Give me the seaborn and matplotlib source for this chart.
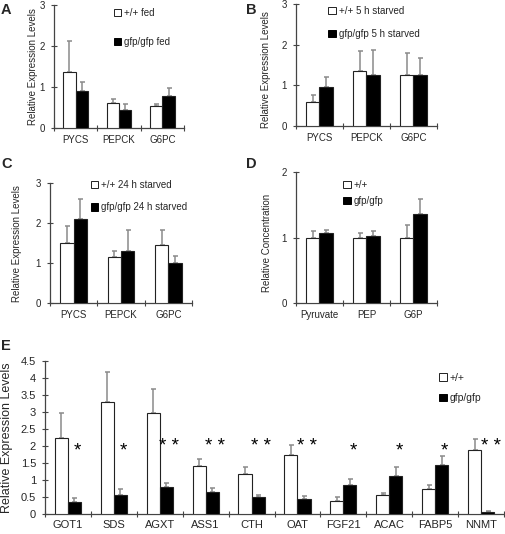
import numpy as np
import pandas as pd
import matplotlib
matplotlib.use('Agg')
import matplotlib.pyplot as plt
import seaborn as sns
from matplotlib.patches import Patch

sns.set_theme(style='white')
plt.rcParams['font.family'] = ['Liberation Sans', 'DejaVu Sans']

# --- data ---
a_genes = ['PYCS', 'PEPCK', 'G6PC']
a_wt = [1.37, 0.61, 0.54]
a_wt_err = [0.75, 0.10, 0.05]
a_ko = [0.91, 0.44, 0.79]
a_ko_err = [0.21, 0.14, 0.18]
a_labels = ['+/+ fed', 'gfp/gfp fed']

b_genes = ['PYCS', 'PEPCK', 'G6PC']
b_wt = [0.60, 1.36, 1.25]
b_wt_err = [0.17, 0.50, 0.56]
b_ko = [0.95, 1.25, 1.25]
b_ko_err = [0.27, 0.62, 0.43]
b_labels = ['+/+ 5 h starved', 'gfp/gfp 5 h starved']

c_genes = ['PYCS', 'PEPCK', 'G6PC']
c_wt = [1.52, 1.17, 1.47]
c_wt_err = [0.42, 0.13, 0.37]
c_ko = [2.10, 1.31, 1.02]
c_ko_err = [0.50, 0.52, 0.17]
c_labels = ['+/+ 24 h starved', 'gfp/gfp 24 h starved']

d_metabolites = ['Pyruvate', 'PEP', 'G6P']
d_wt = [1.00, 1.00, 1.00]
d_wt_err = [0.10, 0.07, 0.19]
d_ko = [1.07, 1.02, 1.37]
d_ko_err = [0.05, 0.09, 0.22]
d_labels = ['+/+', 'gfp/gfp']

e_genes = ['GOT1', 'SDS', 'AGXT', 'ASS1', 'CTH', 'OAT', 'FGF21', 'ACAC', 'FABP5', 'NNMT']
e_wt = [2.25, 3.29, 2.97, 1.43, 1.18, 1.74, 0.40, 0.57, 0.74, 1.90]
e_wt_err = [0.74, 0.91, 0.72, 0.20, 0.22, 0.29, 0.10, 0.07, 0.13, 0.31]
e_ko = [0.35, 0.57, 0.79, 0.67, 0.50, 0.44, 0.85, 1.14, 1.45, 0.08]
e_ko_err = [0.12, 0.17, 0.12, 0.09, 0.07, 0.11, 0.20, 0.26, 0.27, 0.02]
e_stars = ['*', '*', '* *', '* *', '* *', '* *', '*', '*', '*', '* *']
e_labels = ['+/+', 'gfp/gfp']

W, H = 506, 534
fig = plt.figure(figsize=(W / 100, H / 100), dpi=100)


def box(x0, y0, x1, y1):
    return [x0 / W, 1 - y1 / H, (x1 - x0) / W, (y1 - y0) / H]


def draw_panel(ax, genes, wt, wt_err, ko, ko_err, ymax, ystep, ylabel, fs, xpad=5):
    n = len(genes)
    df = pd.DataFrame({'gene': genes + genes,
                       'group': ['wt'] * n + ['ko'] * n,
                       'value': wt + ko})
    sns.barplot(data=df, x='gene', y='value', hue='group', hue_order=['wt', 'ko'],
                palette={'wt': 'white', 'ko': 'black'}, edgecolor='#222222',
                linewidth=0.8, width=0.57, legend=False, ax=ax, zorder=3)
    bars = sorted(ax.patches, key=lambda p: p.get_x())
    xs = [p.get_x() + p.get_width() / 2 for p in bars]
    hs = [p.get_height() for p in bars]
    errs = [e for pair in zip(wt_err, ko_err) for e in pair]
    ax.errorbar(xs, hs, yerr=[np.zeros(len(errs)), errs], fmt='none',
                ecolor='#8a8a8a', elinewidth=1.1, capsize=1.8, capthick=1.1, zorder=2)

    ax.set_xlim(-0.5, n - 0.5)
    ax.set_ylim(0, ymax)
    yt = np.arange(0, ymax + 1e-9, ystep)
    ax.set_yticks(yt)
    ax.set_yticklabels(['%g' % v for v in yt], fontsize=fs)
    ax.set_xticks(np.arange(n + 1) - 0.5, minor=True)
    ax.tick_params(axis='x', which='major', length=0, pad=xpad, labelsize=fs)
    ax.tick_params(axis='x', which='minor', direction='inout', length=5,
                   width=0.8, color='#444444', bottom=True)
    ax.tick_params(axis='y', which='major', direction='inout', length=5,
                   width=0.8, color='#444444', pad=4, left=True)
    sns.despine(ax=ax)
    for s in ['left', 'bottom']:
        ax.spines[s].set_color('#444444')
        ax.spines[s].set_linewidth(0.9)
    ax.set_xlabel('')
    ax.set_ylabel(ylabel, fontsize=fs)
    ax.patch.set_alpha(0)


def add_legend(ax, labels, anchor, spacing, fs):
    handles = [Patch(facecolor='white', edgecolor='#222222', linewidth=0.7, label=labels[0]),
               Patch(facecolor='black', edgecolor='black', linewidth=0.7, label=labels[1])]
    ax.legend(handles=handles, loc='upper left', bbox_to_anchor=anchor, frameon=False,
              handlelength=0.75, handleheight=0.75, handletextpad=0.3,
              labelspacing=spacing, borderpad=0, borderaxespad=0, fontsize=fs)


ax_a = fig.add_axes(box(54, 5, 184, 128))
draw_panel(ax_a, a_genes, a_wt, a_wt_err, a_ko, a_ko_err, 3, 1,
           'Relative Expression Levels', 7)
ax_a.yaxis.set_label_coords(-0.125, 0.5)
add_legend(ax_a, a_labels, (0.46, 0.975), 1.9, 7)

ax_b = fig.add_axes(box(296, 4.3, 437, 126))
draw_panel(ax_b, b_genes, b_wt, b_wt_err, b_ko, b_ko_err, 3, 1,
           'Relative Expression Levels', 7)
ax_b.yaxis.set_label_coords(-0.18, 0.46)
add_legend(ax_b, b_labels, (0.23, 0.985), 1.3, 7)

ax_c = fig.add_axes(box(50, 183.3, 192, 303.3))
draw_panel(ax_c, c_genes, c_wt, c_wt_err, c_ko, c_ko_err, 3, 1,
           'Relative Expression Levels', 7)
ax_c.yaxis.set_label_coords(-0.2, 0.5)
add_legend(ax_c, c_labels, (0.29, 1.03), 1.3, 7)

ax_d = fig.add_axes(box(296, 172.3, 437, 303.3))
draw_panel(ax_d, d_metabolites, d_wt, d_wt_err, d_ko, d_ko_err, 2, 1,
           'Relative Concentration', 7)
ax_d.yaxis.set_label_coords(-0.17, 0.46)
add_legend(ax_d, d_labels, (0.335, 0.945), 0.7, 7)

ax_e = fig.add_axes(box(45, 361.3, 504, 514.3))
draw_panel(ax_e, e_genes, e_wt, e_wt_err, e_ko, e_ko_err, 4.5, 0.5,
           'Relative Expression Levels', 8, xpad=4)
ax_e.yaxis.label.set_size(9)
ax_e.yaxis.set_label_coords(-0.07, 0.5)
add_legend(ax_e, e_labels, (0.858, 0.925), 1.0, 7.5)
for i, s in enumerate(e_stars):
    ax_e.text(i + 0.21, 1.74 + 0.12 * (len(s) > 1), s, ha='center', va='baseline',
              fontsize=13.5, color='black')

for letter, (x, y) in zip('ABCDE', [(1, 2.5), (246, 2.5), (1, 157.5), (246, 157.5), (1, 339)]):
    fig.text(x / W, 1 - y / H, letter, fontsize=10.5, fontweight='bold', ha='left', va='top')

fig.savefig('out.png', dpi=100)
